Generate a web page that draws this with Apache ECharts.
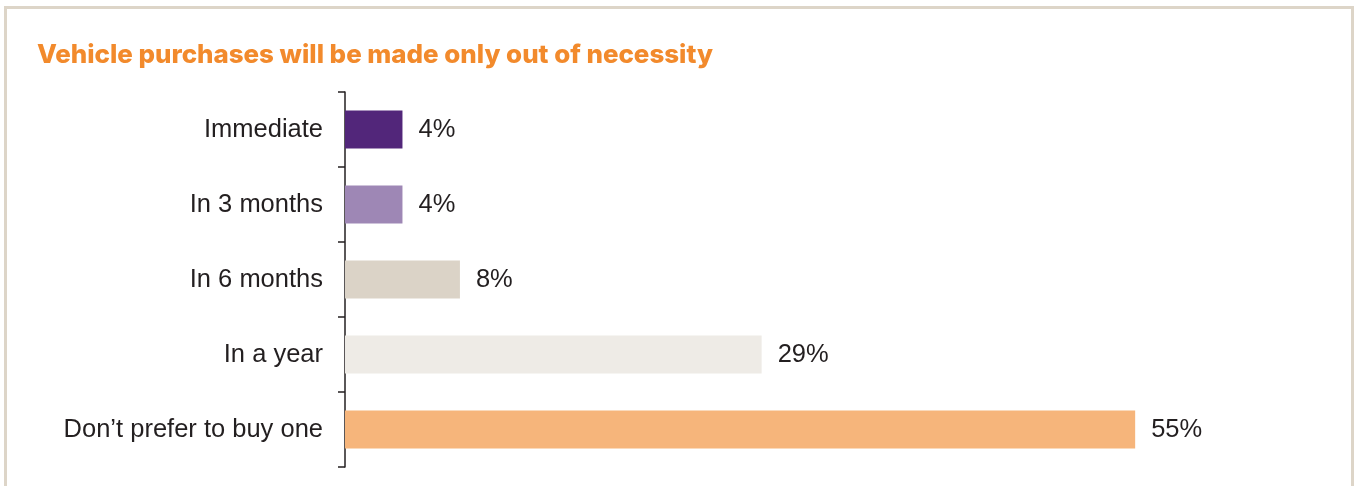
<!DOCTYPE html>
<html>
<head>
<meta charset="utf-8">
<script src="https://cdn.jsdelivr.net/npm/echarts@6/dist/echarts.min.js"></script>
<style>
html,body{margin:0;padding:0;background:#fff;}
#chart{width:1358px;height:486px;}
</style>
</head>
<body>
<div id="chart"></div>
<script>
const categories = ["Immediate", "In 3 months", "In 6 months", "In a year", "Don\u2019t prefer to buy one"];
const values = [4, 4, 8, 29, 55];
const barColors = ["#52267a", "#9e87b5", "#dbd3c7", "#eeebe6", "#f6b57b"];
const titleText = "Vehicle purchases will be made only out of necessity";

const chart = echarts.init(document.getElementById('chart'));
chart.setOption({
  animation: false,
  backgroundColor: '#ffffff',
  graphic: [{
    type: 'rect', z: -1,
    shape: { x: 5.5, y: 7.5, width: 1347, height: 600 },
    style: { fill: 'none', stroke: '#ddd5c8', lineWidth: 3 }
  }],
  title: {
    text: titleText,
    left: 37, top: 42, padding: 0,
    textStyle: { color: '#f28a2c', fontFamily: 'Inter', fontWeight: 800, fontSize: 25.9 }
  },
  grid: { left: 345, top: 92, bottom: 19, right: 151, containLabel: false },
  xAxis: {
    type: 'value', min: 0, max: 60, show: false
  },
  yAxis: {
    type: 'category', data: categories, inverse: true,
    axisLine: { show: true, lineStyle: { color: '#231f20', width: 1.5 } },
    axisTick: { show: true, length: 7, lineStyle: { color: '#231f20', width: 1.5 } },
    axisLabel: { color: '#231f20', fontFamily: 'Liberation Sans', fontSize: 25.5, margin: 22, padding: [6, 0, 0, 0] },
    splitLine: { show: false }
  },
  series: [{
    type: 'bar',
    data: values.map((v, i) => ({ value: v, itemStyle: { color: barColors[i] } })),
    barWidth: 38,
    label: {
      show: true, position: 'right', distance: 16, padding: [6, 0, 0, 0],
      formatter: '{c}%',
      color: '#231f20', fontFamily: 'Liberation Sans', fontSize: 25.5
    }
  }]
});
</script>
</body>
</html>
